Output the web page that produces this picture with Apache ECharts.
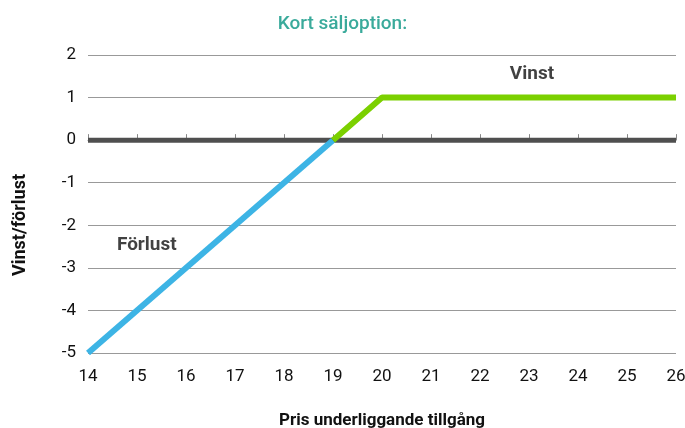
<!DOCTYPE html>
<html><head><meta charset="utf-8">
<script src="https://cdn.jsdelivr.net/npm/echarts@6/dist/echarts.min.js"></script>
<style>html,body{margin:0;padding:0;background:#fff}#c{width:685px;height:428px}</style>
</head><body><div id="c"></div>
<script>
var titleText = 'Kort säljoption:';
var xName = 'Pris underliggande tillgång';
var yName = 'Vinst/förlust';
var lossPts = [[14, -5], [19, 0]];
var gainPts = [[19, 0], [20, 1], [26, 1]];
var zeroPts = [[14, 0], [26, 0]];
var labelPts = [{value: [23.06, 1.54], name: 'Vinst'}, {value: [15.2, -2.48], name: 'Förlust'}];

var font = 'Roboto, "DejaVu Sans", sans-serif';
var chart = echarts.init(document.getElementById('c'));
chart.setOption({
  animation: false,
  title: {text: titleText, left: 'center', top: 10, textStyle: {color: '#3aaa9b', fontSize: 19, fontWeight: 500, fontFamily: font}},
  grid: {left: 88, right: 9, top: 55, bottom: 75, containLabel: false, outerBoundsMode: 'none'},
  xAxis: {
    type: 'value', min: 14, max: 26, interval: 1,
    name: xName, nameLocation: 'middle', nameGap: 59,
    nameTextStyle: {fontSize: 17, fontWeight: 'bold', color: '#111', fontFamily: font},
    axisLine: {lineStyle: {color: '#888', width: 1}},
    axisTick: {inside: true, length: 6, lineStyle: {color: '#888'}},
    axisLabel: {fontSize: 17, color: '#111', margin: 15, fontFamily: font},
    splitLine: {show: false}
  },
  yAxis: {
    type: 'value', min: -5, max: 2, interval: 1,
    name: yName, nameLocation: 'middle', nameGap: 59,
    nameTextStyle: {fontSize: 18, fontWeight: 'bold', color: '#111', fontFamily: font, padding: [0, 42, 0, 0]},
    axisLine: {show: false}, axisTick: {show: false},
    axisLabel: {fontSize: 17, color: '#111', margin: 12, fontFamily: font},
    splitLine: {lineStyle: {color: '#999', width: 1}}
  },
  series: [
    {type: 'line', data: zeroPts, symbol: 'none', lineStyle: {color: '#4f4f4f', width: 5}, z: 2},
    {type: 'line', data: lossPts, symbol: 'none', lineStyle: {color: '#3db4e5', width: 6}, z: 3},
    {type: 'line', data: gainPts, symbol: 'none', lineStyle: {color: '#7bd000', width: 6}, z: 3},
    {type: 'scatter', data: labelPts, symbolSize: 0, z: 4,
     label: {show: true, position: 'inside', formatter: '{b}', fontSize: 19, fontWeight: 'bold', color: '#111', fontFamily: font}}
  ]
});
</script></body></html>
